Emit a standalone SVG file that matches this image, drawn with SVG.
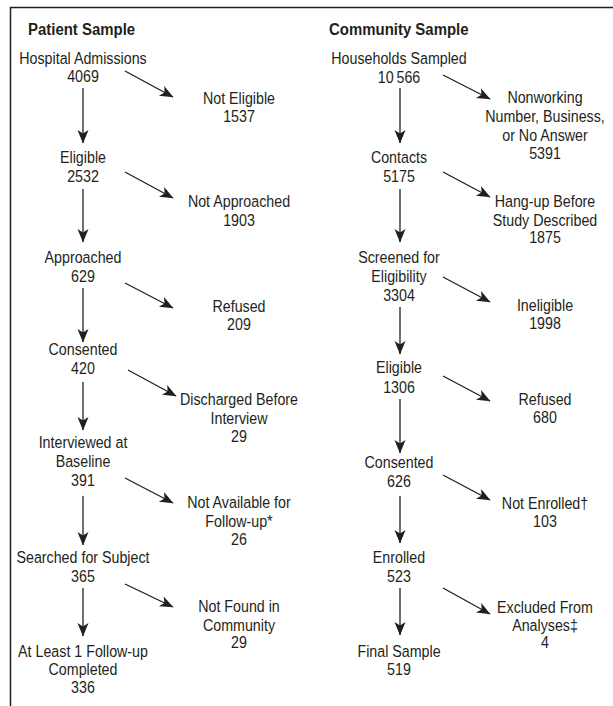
<svg xmlns="http://www.w3.org/2000/svg" width="613" height="706" viewBox="0 0 613 706">
<style>
.t{font-family:"Liberation Sans",Arial,sans-serif;font-size:16.3px;fill:#231f20;text-anchor:middle}
.h{font-family:"Liberation Sans",Arial,sans-serif;font-size:17px;font-weight:bold;fill:#231f20}
.c line{stroke:#231f20;stroke-width:1.3;marker-end:url(#ah)}
.frame{stroke:#231f20;stroke-width:1.5;fill:none}
</style>
<defs>
<marker id="ah" markerUnits="userSpaceOnUse" markerWidth="16" markerHeight="12" viewBox="0 -6 14 12" refX="13" refY="0" orient="auto">
<path d="M0,-5.5 L13.5,0 L0,5.5 L3.5,0 z" fill="#231f20"/>
</marker>
</defs>
<rect width="613" height="706" fill="#fff"/>
<path class="frame" d="M10.5,706 L10.5,7.5 L613,7.5"/>
<g id="headers">
<text class="h" transform="translate(28,35) scale(0.88,1)">Patient Sample</text>
<text class="h" transform="translate(329,35) scale(0.88,1)">Community Sample</text>
</g>
<g id="patient-nodes">
<g id="p1" transform="translate(83,0) scale(0.875,1)"><text class="t"><tspan x="0" y="64">Hospital Admissions</tspan><tspan x="0" y="82">4069</tspan></text></g>
<g id="p1x" transform="translate(239,0) scale(0.875,1)"><text class="t"><tspan x="0" y="104">Not Eligible</tspan><tspan x="0" y="122">1537</tspan></text></g>
<g id="p2" transform="translate(83,0) scale(0.875,1)"><text class="t"><tspan x="0" y="163">Eligible</tspan><tspan x="0" y="182">2532</tspan></text></g>
<g id="p2x" transform="translate(239,0) scale(0.875,1)"><text class="t"><tspan x="0" y="207">Not Approached</tspan><tspan x="0" y="226">1903</tspan></text></g>
<g id="p3" transform="translate(83,0) scale(0.875,1)"><text class="t"><tspan x="0" y="263">Approached</tspan><tspan x="0" y="282">629</tspan></text></g>
<g id="p3x" transform="translate(239,0) scale(0.875,1)"><text class="t"><tspan x="0" y="312">Refused</tspan><tspan x="0" y="330">209</tspan></text></g>
<g id="p4" transform="translate(83,0) scale(0.875,1)"><text class="t"><tspan x="0" y="355">Consented</tspan><tspan x="0" y="374">420</tspan></text></g>
<g id="p4x" transform="translate(239,0) scale(0.875,1)"><text class="t"><tspan x="0" y="405">Discharged Before</tspan><tspan x="0" y="424">Interview</tspan><tspan x="0" y="442">29</tspan></text></g>
<g id="p5" transform="translate(83,0) scale(0.875,1)"><text class="t"><tspan x="0" y="448">Interviewed at</tspan><tspan x="0" y="467">Baseline</tspan><tspan x="0" y="486">391</tspan></text></g>
<g id="p5x" transform="translate(239,0) scale(0.875,1)"><text class="t"><tspan x="0" y="508">Not Available for</tspan><tspan x="0" y="527">Follow-up*</tspan><tspan x="0" y="545">26</tspan></text></g>
<g id="p6" transform="translate(83,0) scale(0.875,1)"><text class="t"><tspan x="0" y="563">Searched for Subject</tspan><tspan x="0" y="582">365</tspan></text></g>
<g id="p6x" transform="translate(239,0) scale(0.875,1)"><text class="t"><tspan x="0" y="612">Not Found in</tspan><tspan x="0" y="631">Community</tspan><tspan x="0" y="648">29</tspan></text></g>
<g id="p7" transform="translate(83,0) scale(0.875,1)"><text class="t"><tspan x="0" y="657">At Least 1 Follow-up</tspan><tspan x="0" y="675">Completed</tspan><tspan x="0" y="693">336</tspan></text></g>
</g>
<g id="community-nodes">
<g id="c1" transform="translate(399,0) scale(0.875,1)"><text class="t"><tspan x="0" y="64">Households Sampled</tspan><tspan x="0" y="83">10&#8201;566</tspan></text></g>
<g id="c1x" transform="translate(545,0) scale(0.875,1)"><text class="t"><tspan x="0" y="103">Nonworking</tspan><tspan x="0" y="122">Number, Business,</tspan><tspan x="0" y="141">or No Answer</tspan><tspan x="0" y="159">5391</tspan></text></g>
<g id="c2" transform="translate(399,0) scale(0.875,1)"><text class="t"><tspan x="0" y="163">Contacts</tspan><tspan x="0" y="182">5175</tspan></text></g>
<g id="c2x" transform="translate(545,0) scale(0.875,1)"><text class="t"><tspan x="0" y="207">Hang-up Before</tspan><tspan x="0" y="226">Study Described</tspan><tspan x="0" y="243">1875</tspan></text></g>
<g id="c3" transform="translate(399,0) scale(0.875,1)"><text class="t"><tspan x="0" y="263">Screened for</tspan><tspan x="0" y="282">Eligibility</tspan><tspan x="0" y="301">3304</tspan></text></g>
<g id="c3x" transform="translate(545,0) scale(0.875,1)"><text class="t"><tspan x="0" y="311">Ineligible</tspan><tspan x="0" y="329">1998</tspan></text></g>
<g id="c4" transform="translate(399,0) scale(0.875,1)"><text class="t"><tspan x="0" y="373">Eligible</tspan><tspan x="0" y="393">1306</tspan></text></g>
<g id="c4x" transform="translate(545,0) scale(0.875,1)"><text class="t"><tspan x="0" y="405">Refused</tspan><tspan x="0" y="423">680</tspan></text></g>
<g id="c5" transform="translate(399,0) scale(0.875,1)"><text class="t"><tspan x="0" y="468">Consented</tspan><tspan x="0" y="487">626</tspan></text></g>
<g id="c5x" transform="translate(545,0) scale(0.875,1)"><text class="t"><tspan x="0" y="509">Not Enrolled†</tspan><tspan x="0" y="527">103</tspan></text></g>
<g id="c6" transform="translate(399,0) scale(0.875,1)"><text class="t"><tspan x="0" y="563">Enrolled</tspan><tspan x="0" y="582">523</tspan></text></g>
<g id="c6x" transform="translate(545,0) scale(0.875,1)"><text class="t"><tspan x="0" y="613">Excluded From</tspan><tspan x="0" y="631">Analyses‡</tspan><tspan x="0" y="648">4</tspan></text></g>
<g id="c7" transform="translate(399,0) scale(0.875,1)"><text class="t"><tspan x="0" y="657">Final Sample</tspan><tspan x="0" y="675">519</tspan></text></g>
</g>
<g id="connectors" class="c">
<line x1="83" y1="88" x2="83" y2="143"/>
<line x1="83" y1="189" x2="83" y2="242"/>
<line x1="83" y1="288" x2="83" y2="342"/>
<line x1="83" y1="382" x2="83" y2="430"/>
<line x1="83" y1="496" x2="83" y2="545"/>
<line x1="83" y1="588" x2="83" y2="636"/>
<line x1="125" y1="71" x2="173" y2="97"/>
<line x1="125" y1="172" x2="173" y2="198"/>
<line x1="125" y1="283" x2="173" y2="308"/>
<line x1="128" y1="370" x2="176" y2="396"/>
<line x1="125" y1="478" x2="173" y2="503"/>
<line x1="125" y1="584" x2="173" y2="607"/>
<line x1="400" y1="88" x2="400" y2="143"/>
<line x1="400" y1="189" x2="400" y2="242"/>
<line x1="400" y1="307" x2="400" y2="354"/>
<line x1="400" y1="399" x2="400" y2="453"/>
<line x1="400" y1="496" x2="400" y2="543"/>
<line x1="400" y1="588" x2="400" y2="635"/>
<line x1="443" y1="75" x2="490" y2="99"/>
<line x1="443" y1="172" x2="490" y2="197"/>
<line x1="443" y1="277" x2="490" y2="302"/>
<line x1="443" y1="376" x2="490" y2="401"/>
<line x1="443" y1="475" x2="490" y2="500"/>
<line x1="443" y1="588" x2="490" y2="614"/>
</g>
</svg>
